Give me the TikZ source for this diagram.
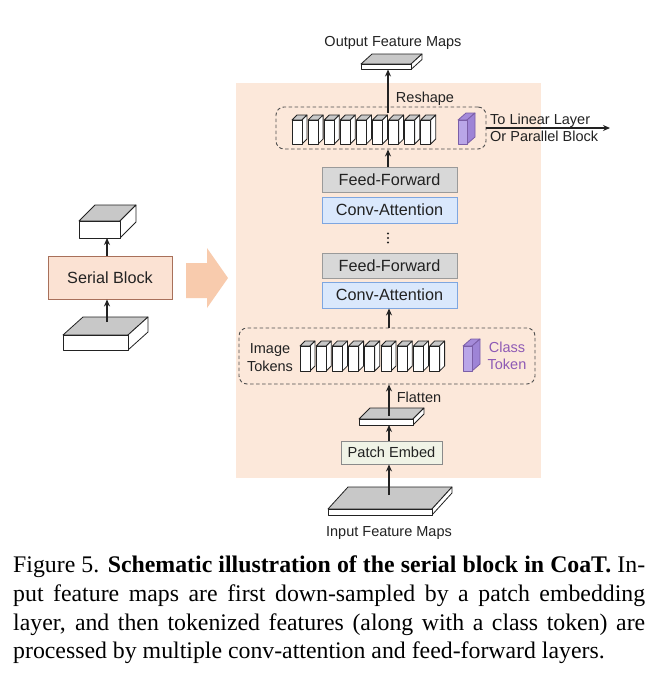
\documentclass[tikz,border=0pt]{standalone}
\usepackage{fontspec}
\setmainfont{Liberation Serif}
\newfontfamily\sansf{Liberation Sans}
\usetikzlibrary{arrows.meta}
\definecolor{peach}{HTML}{FCE8DA}
\definecolor{bigarrow}{HTML}{F8CBAD}
\definecolor{sbfill}{HTML}{FBE2D3}
\definecolor{sbline}{HTML}{A8705A}
\definecolor{fffill}{HTML}{D8D8D8}
\definecolor{ffline}{HTML}{9A9A9A}
\definecolor{cafill}{HTML}{DAE8FC}
\definecolor{caline}{HTML}{7EA6E0}
\definecolor{pefill}{HTML}{F0F3E6}
\definecolor{peline}{HTML}{8A8A8A}
\definecolor{slabtop}{HTML}{C8C8C8}
\definecolor{purfront}{HTML}{B9A6E8}
\definecolor{purtop}{HTML}{A58BDA}
\definecolor{purside}{HTML}{9E84D6}
\definecolor{purline}{HTML}{7B5EA7}
\definecolor{purtext}{HTML}{8E5AB5}
\definecolor{ink}{HTML}{222222}
\tikzset{
  cubeline/.style={draw=ink, line width=0.8pt, line join=round},
  arr/.style={draw=ink, line width=1.1pt, -{Stealth[length=7pt,width=6pt]}},
  lbl/.style={font=\sansf\fontsize{14.5}{17}\selectfont, inner sep=0pt, text=ink},
  blk/.style={draw, line width=0.9pt, inner sep=0pt, font=\sansf\fontsize{16.2}{19}\selectfont, text=ink},
  dbox/.style={draw=ink!80, line width=0.9pt, dash pattern=on 3.5pt off 2.5pt, rounded corners=8pt, inner sep=0pt},
  ref/.style={inner sep=0pt, outer sep=0pt},
  captionline/.style={font=\fontsize{23.8}{29}\selectfont, inner sep=0pt, anchor=base west},
}
% #1 x, #2 y (front top-left), #3 w, #4 h, #5 dx, #6 dy, #7 top, #8 front, #9 side
\newcommand{\cubo}[9]{%
  \filldraw[cubeline,fill=#7] (#1,#2) -- ++(#5,-#6) -- ++(#3,0) -- ++(-#5,#6) -- cycle;
  \filldraw[cubeline,fill=#9] (#1+#3,#2) -- ++(#5,-#6) -- ++(0,#4) -- ++(-#5,#6) -- cycle;
  \filldraw[cubeline,fill=#8] (#1,#2) rectangle ++(#3,#4);}
\begin{document}
\begin{tikzpicture}[x=1pt,y=-1pt]
\useasboundingbox (0,0) rectangle (657,681);
\fill[white] (0,0) rectangle (657,681);

% background panel
\fill[peach] (236,83) rectangle (541,478);

% big arrow
\fill[bigarrow] (186,263) -- (207,263) -- (207,248) -- (228,278) -- (207,308) -- (207,298) -- (186,298) -- cycle;

% ---------- left column ----------
\node[blk, draw=sbline, fill=sbfill, minimum width=124pt, minimum height=43pt] (serial) at (110,277.5) {Serial Block};
\cubo{79}{221}{41}{17}{16}{16}{slabtop}{white}{white}
\node[ref, minimum width=41pt, minimum height=17pt, anchor=north west] (lcubetop) at (79,221) {};
\cubo{63}{335}{65}{15}{20}{18}{slabtop}{white}{white}
\node[ref, minimum width=65pt, minimum height=15pt, anchor=north west] (lcubebot) at (63,335) {};
\coordinate (lbotstart) at (107,322);
\draw[arr] (serial.north -| lbotstart) -- (lcubetop.south -| lbotstart);
\draw[arr] (lbotstart) -- (serial.south -| lbotstart);

% ---------- right column ----------
% output slab
\cubo{361}{64}{50}{5.5}{11}{10}{slabtop}{white}{white}
\node[ref, minimum width=50pt, minimum height=5.5pt, anchor=north west] (outslab) at (361,64) {};
\node[lbl, anchor=base] (outlbl) at (393,46) {Output Feature Maps};

% top token group
\node[dbox, minimum width=210pt, minimum height=42pt] (topgrp) at (381,128) {};
\foreach \i in {0,...,8}{
  \pgfmathsetmacro{\xx}{292+16.1*\i}
  \cubo{\xx}{120}{10}{24}{5}{5}{slabtop}{white}{white}
}
\begin{scope}[cubeline/.append style={draw=purline}]
\cubo{458}{120}{9}{24}{8}{7}{purtop}{purfront}{purside}
\end{scope}
\node[lbl, anchor=base] (reshape) at (425,102) {Reshape};
\node[lbl, anchor=base west] (tolin) at (490,124) {To Linear Layer};
\node[lbl, anchor=base west] (orpar) at (490,141) {Or Parallel Block};
\coordinate (outend) at (610,128);
\coordinate (reshstart) at (388,113);
\draw[arr] (topgrp.east) -- (outend);
\draw[arr] (reshstart) -- (outslab.south -| reshstart);

% blocks
\node[blk, draw=ffline, fill=fffill, minimum width=135pt, minimum height=25pt] (ff1) at (389.5,179.5) {Feed-Forward};
\node[blk, draw=caline, fill=cafill, minimum width=135pt, minimum height=26pt] (ca1) at (389.5,210) {Conv-Attention};
\fill[ink] (388,233.5) circle (1.1) (388,238) circle (1.1) (388,242.5) circle (1.1);
\node[blk, draw=ffline, fill=fffill, minimum width=135pt, minimum height=25pt] (ff2) at (389.5,265.5) {Feed-Forward};
\node[blk, draw=caline, fill=cafill, minimum width=135pt, minimum height=26pt] (ca2) at (389.5,295) {Conv-Attention};
\draw[arr] (ff1.north -| reshstart) -- (topgrp.south -| reshstart);

% bottom token group
\node[dbox, minimum width=296pt, minimum height=56pt] (botgrp) at (387,356) {};
\foreach \i in {0,...,8}{
  \pgfmathsetmacro{\xx}{300+16.2*\i}
  \cubo{\xx}{346}{10}{25}{5}{5}{slabtop}{white}{white}
}
\begin{scope}[cubeline/.append style={draw=purline}]
\cubo{463}{346}{9}{25}{8}{7}{purtop}{purfront}{purside}
\end{scope}
\node[lbl, anchor=base] (imglbl) at (270,353) {Image};
\node[lbl, anchor=base] (toklbl) at (270,371) {Tokens};
\node[lbl, anchor=base, text=purtext] (clslbl) at (507,352) {Class};
\node[lbl, anchor=base, text=purtext] (ctoklbl) at (507,369) {Token};
\coordinate (col) at (389,400);
\draw[arr] (botgrp.north -| col) -- (ca2.south -| col);

% flatten slab
\cubo{359}{419}{54}{6}{11}{11}{slabtop}{white}{white}
\node[ref, minimum width=54pt, minimum height=6pt, anchor=north west] (flatslab) at (359,419) {};
\node[lbl, anchor=base] (flatlbl) at (419,402) {Flatten};
\coordinate (flatstart) at (389,416);
\draw[arr] (flatstart) -- (botgrp.south -| col);

% patch embed
\node[blk, draw=peline, fill=pefill, minimum width=101pt, minimum height=23pt, font=\sansf\fontsize{14.6}{17}\selectfont] (patch) at (391.5,452.5) {Patch Embed};
\draw[arr] (patch.north -| col) -- (flatslab.south -| col);

% input slab
\cubo{328}{509}{104}{6}{20}{22}{slabtop}{white}{white}
\node[ref, minimum width=104pt, minimum height=6pt, anchor=north west] (inslab) at (328,509) {};
\coordinate (instart) at (389,495);
\draw[arr] (instart) -- (patch.south -| col);
\node[lbl, anchor=base] (inlbl) at (389,536) {Input Feature Maps};

% ---------- caption ----------
\node[captionline] (cap1) at (13,572) {\makebox[632pt][s]{Figure 5. \textbf{Schematic illustration of the serial block in CoaT.} In-}};
\node[captionline] (cap2) at (13,601) {\makebox[632pt][s]{put feature maps are first down-sampled by a patch embedding}};
\node[captionline] (cap3) at (13,630) {\makebox[632pt][s]{layer, and then tokenized features (along with a class token) are}};
\node[captionline] (cap4) at (13,658) {processed by multiple conv-attention and feed-forward layers.};
\end{tikzpicture}
\end{document}
